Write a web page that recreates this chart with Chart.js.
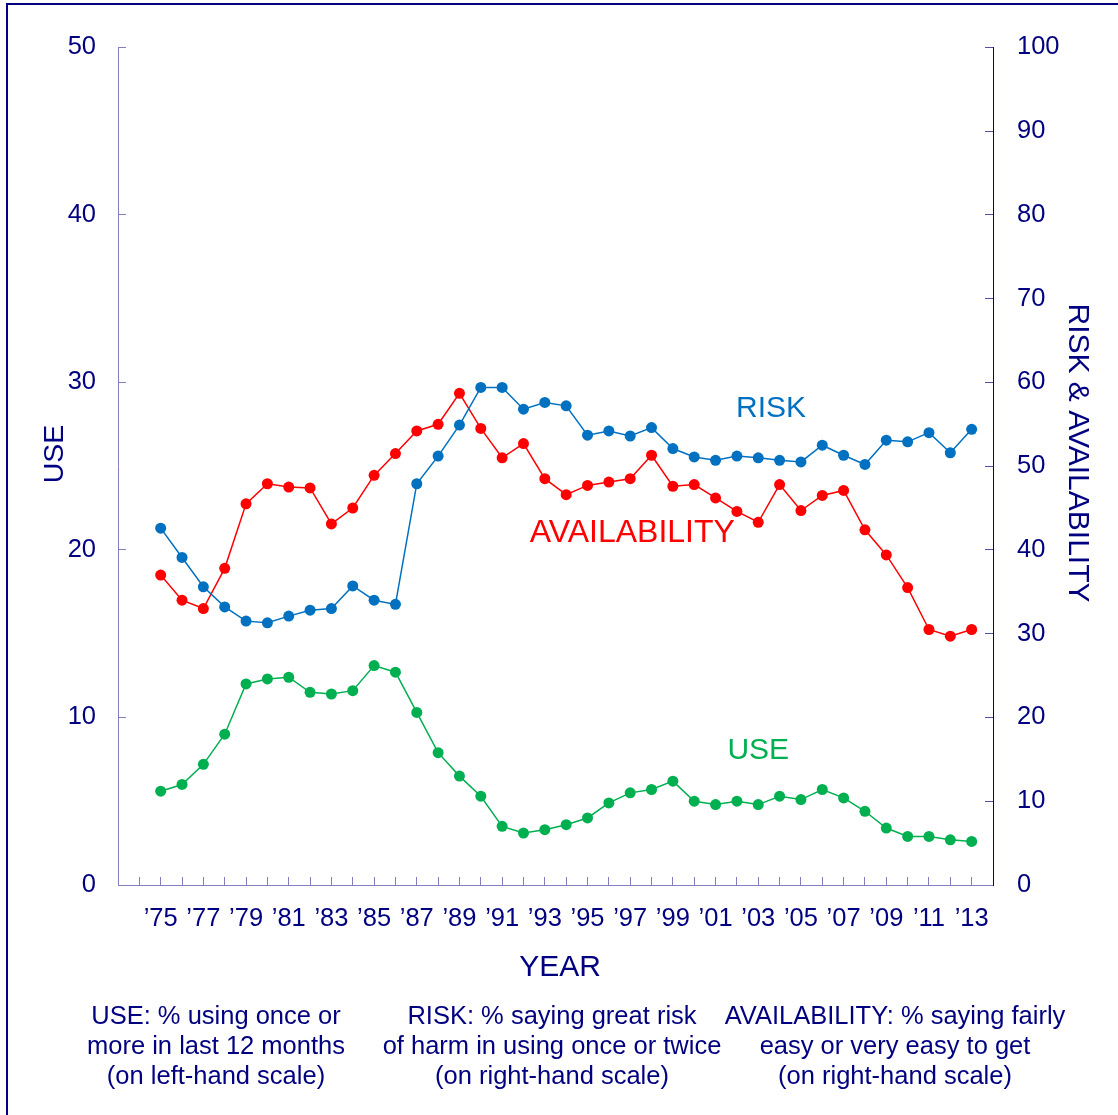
<!DOCTYPE html>
<html>
<head>
<meta charset="utf-8">
<title>Cocaine: use, risk and availability</title>
<script src="https://cdn.jsdelivr.net/npm/chart.js@4.4.0/dist/chart.umd.min.js"></script>
<style>
  html, body { margin: 0; padding: 0; background: #fff; overflow: hidden; }
  #wrap { position: relative; width: 1118px; height: 1115px; overflow: hidden; }
  #frame { position: absolute; left: 6px; top: 3px; width: 1300px; height: 1300px; border: 2px solid #000080; }
  #myChart { position: absolute; left: 0; top: 0; }
  .note {
    position: absolute; top: 1000px; width: 400px; text-align: center;
    font: 25.5px "Liberation Sans", Arial, sans-serif; line-height: 30px;
    color: #000080; white-space: nowrap;
  }
</style>
</head>
<body>
<div id="wrap">
  <div id="frame"></div>
  <canvas id="myChart" width="1118" height="1115"></canvas>
  <div class="note" style="left:16px">USE: % using once or<br>more in last 12 months<br>(on left-hand scale)</div>
  <div class="note" style="left:352px">RISK: % saying great risk<br>of harm in using once or twice<br>(on right-hand scale)</div>
  <div class="note" style="left:695px">AVAILABILITY: % saying fairly<br>easy or very easy to get<br>(on right-hand scale)</div>
</div>
<script>
// survey years, 1975 - 2013
const years = [1975, 1976, 1977, 1978, 1979, 1980, 1981, 1982, 1983, 1984,
               1985, 1986, 1987, 1988, 1989, 1990, 1991, 1992, 1993, 1994,
               1995, 1996, 1997, 1998, 1999, 2000, 2001, 2002, 2003, 2004,
               2005, 2006, 2007, 2008, 2009, 2010, 2011, 2012, 2013];

// % using in last 12 months (left-hand scale)
const useValues = [5.6, 6.0, 7.2, 9.0, 12.0, 12.3, 12.4, 11.5, 11.4, 11.6,
                   13.1, 12.7, 10.3, 7.9, 6.5, 5.3, 3.5, 3.1, 3.3, 3.6,
                   4.0, 4.9, 5.5, 5.7, 6.2, 5.0, 4.8, 5.0, 4.8, 5.3,
                   5.1, 5.7, 5.2, 4.4, 3.4, 2.9, 2.9, 2.7, 2.6];

// % saying great risk (right-hand scale)
const riskValues = [42.6, 39.1, 35.6, 33.2, 31.5, 31.3, 32.1, 32.8, 33.0, 35.7,
                    34.0, 33.5, 47.9, 51.2, 54.9, 59.4, 59.4, 56.8, 57.6, 57.2,
                    53.7, 54.2, 53.6, 54.6, 52.1, 51.1, 50.7, 51.2, 51.0, 50.7,
                    50.5, 52.5, 51.3, 50.2, 53.1, 52.9, 54.0, 51.6, 54.4];

// % saying fairly/very easy to get (right-hand scale)
const availValues = [37.0, 34.0, 33.0, 37.8, 45.5, 47.9, 47.5, 47.4, 43.1, 45.0,
                     48.9, 51.5, 54.2, 55.0, 58.7, 54.5, 51.0, 52.7, 48.5, 46.6,
                     47.7, 48.1, 48.5, 51.3, 47.6, 47.8, 46.2, 44.6, 43.3, 47.8,
                     44.7, 46.5, 47.1, 42.4, 39.4, 35.5, 30.5, 29.7, 30.5];

// tick values for both y axes
const useTicks = [0, 10, 20, 30, 40, 50];
const rightTicks = [0, 10, 20, 30, 40, 50, 60, 70, 80, 90, 100];

// series names written beside the lines: [text, year, value, axis, colour, size]
const seriesNames = [
    ['RISK', 2003.6, 56.9, 'y1', '#0070c0', 30],
    ['AVAILABILITY', 1997.1, 42.0, 'y1', '#ff0000', 32],
    ['USE', 2003.0, 8.0, 'y', '#00b050', 30],
];

const NAVY = '#000080';
const FONT = '"Liberation Sans", Arial, sans-serif';

const toPoints = (values) => values.map((v, i) => ({ x: years[i], y: v }));

const lineSet = (label, values, color, axis) => {
    return {
        label: label,
        data: toPoints(values),
        yAxisID: axis,
        borderColor: color,
        backgroundColor: color,
        borderWidth: 1.5,
        pointRadius: 5.5,
        pointBorderWidth: 0,
        pointBackgroundColor: color,
        pointHoverRadius: 5.5,
        tension: 0,
        clip: false,
    };
}

const getData = () => {
    return {
        datasets: [
            lineSet('RISK', riskValues, '#0070c0', 'y1'),
            lineSet('AVAILABILITY', availValues, '#ff0000', 'y1'),
            lineSet('USE', useValues, '#00b050', 'y'),
        ]
    };
}

// axis titles and the series names are drawn straight on the canvas
const textPlugin = {
    id: 'chartText',
    afterDraw: (chart) => {
        const ctx = chart.ctx;
        ctx.save();
        ctx.textAlign = 'center';
        ctx.textBaseline = 'middle';

        seriesNames.forEach(([text, year, value, axis, color, size]) => {
            ctx.fillStyle = color;
            ctx.font = size + 'px ' + FONT;
            ctx.fillText(text, chart.scales.x.getPixelForValue(year), chart.scales[axis].getPixelForValue(value));
        });

        ctx.fillStyle = NAVY;
        ctx.font = '30px ' + FONT;
        ctx.fillText('YEAR', 560, 968);

        // left title reads bottom to top
        ctx.save();
        ctx.translate(55, 454);
        ctx.rotate(-Math.PI / 2);
        ctx.font = '28.5px ' + FONT;
        ctx.fillText('USE', 0, 0);
        ctx.restore();

        // right title reads top to bottom
        ctx.save();
        ctx.translate(1077, 453);
        ctx.rotate(Math.PI / 2);
        ctx.font = '30px ' + FONT;
        ctx.fillText('RISK & AVAILABILITY', 0, 0);
        ctx.restore();

        ctx.restore();
    }
};

const tickFont = { family: FONT, size: 25.5 };

const getConfig = (data) => {
    return {
        type: 'line',
        data: data,
        plugins: [textPlugin],
        options: {
            responsive: false,
            animation: false,
            layout: { padding: { top: 47, bottom: 115, left: 0, right: 0 } },
            plugins: { legend: { display: false }, tooltip: { enabled: false } },
            events: [],
            scales: {
                x: {
                    type: 'linear',
                    min: 1973,
                    max: 2014,
                    afterFit: (scale) => { scale.height = 115; },
                    border: { color: '#8080c0', width: 1 },
                    grid: { drawOnChartArea: false, tickLength: -8, color: '#8080c0' },
                    ticks: {
                        stepSize: 1,
                        maxTicksLimit: 100,
                        autoSkip: false,
                        maxRotation: 0,
                        padding: 27,
                        color: NAVY,
                        font: tickFont,
                        callback: (v) => (v % 2 === 1 && v >= 1975 && v <= 2013) ? '\u2019' + String(v).slice(2) : '',
                    },
                },
                y: {
                    position: 'left',
                    min: useTicks[0],
                    max: useTicks[useTicks.length - 1],
                    afterFit: (scale) => { scale.width = 118; },
                    afterBuildTicks: (scale) => { scale.ticks = useTicks.map(v => ({ value: v })); },
                    border: { color: '#8080c0', width: 1 },
                    grid: { drawOnChartArea: false, tickLength: -8, color: '#8080c0' },
                    ticks: { padding: 30, color: NAVY, font: tickFont },
                },
                y1: {
                    position: 'right',
                    min: rightTicks[0],
                    max: rightTicks[rightTicks.length - 1],
                    afterFit: (scale) => { scale.width = 125; },
                    afterBuildTicks: (scale) => { scale.ticks = rightTicks.map(v => ({ value: v })); },
                    border: { color: NAVY, width: 1 },
                    grid: { drawOnChartArea: false, tickLength: -8, color: '#5050a0' },
                    ticks: { padding: 32, color: NAVY, font: tickFont },
                },
            },
        }
    };
}

window.onload = () => {
    const myChart = new Chart(
        document.getElementById('myChart'),
        getConfig(getData())
    );
}
</script>
</body>
</html>
